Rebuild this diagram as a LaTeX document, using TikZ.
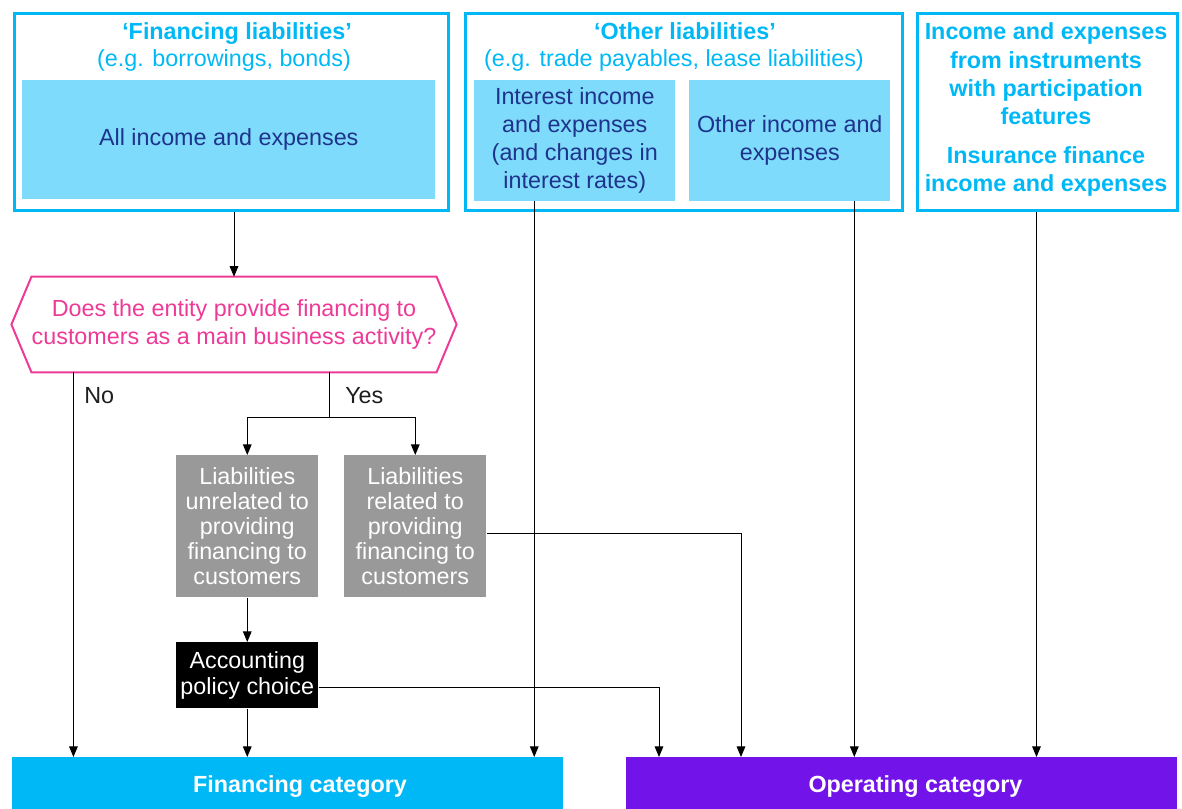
\documentclass[tikz,border=0pt]{standalone}
\usepackage{fontspec}
\setmainfont{Liberation Sans}
\usetikzlibrary{arrows.meta}
\definecolor{kcyan}{RGB}{0,184,245}
\definecolor{klight}{RGB}{127,219,251}
\definecolor{knavy}{RGB}{30,52,140}
\definecolor{kpink}{RGB}{237,58,150}
\definecolor{kgrey}{RGB}{153,153,153}
\definecolor{kpurple}{RGB}{114,19,234}
\definecolor{kink}{RGB}{30,30,30}

\begin{document}
\begin{tikzpicture}[x=0.75pt,y=-0.75pt,>={Triangle[length=8pt,width=6.5pt]},
  sz/.style 2 args={minimum width=#1*0.75pt,minimum height=#2*0.75pt},
  groupbox/.style={draw=kcyan,line width=2.25pt,inner sep=0pt,anchor=north west},
  incbox/.style={fill=klight,text=knavy,inner sep=0pt,anchor=north west,align=center,font=\fontsize{17.5}{21}\selectfont},
  headtxt/.style={text=kcyan,inner sep=0pt,anchor=base,font=\bfseries\fontsize{17.5}{21}\selectfont},
  subtxt/.style={text=kcyan,inner sep=0pt,anchor=base,font=\fontsize{17.5}{21}\selectfont},
  parttxt/.style={text=kcyan,inner sep=0pt,align=center,font=\bfseries\fontsize{17.5}{21.2}\selectfont},
  liab/.style={fill=kgrey,text=white,inner sep=0pt,anchor=north west,align=center,font=\fontsize{17.5}{18.75}\selectfont},
  choicebox/.style={fill=black,text=white,inner sep=0pt,anchor=north west,align=center,font=\fontsize{17.5}{19.5}\selectfont},
  catbox/.style={inner sep=0pt,anchor=north west},
  cattxt/.style={text=white,inner sep=0pt,font=\bfseries\fontsize{17.5}{21}\selectfont},
  anstxt/.style={text=kink,inner sep=0pt,anchor=base west,font=\fontsize{17.5}{21}\selectfont},
  link/.style={line width=0.75pt}]
\useasboundingbox (0,0) rectangle (1182,809);

\node[groupbox,sz={434}{196.5}] (finbox) at (12.5,12.5) {};
\node[groupbox,sz={437.5}{196.5}] (othbox) at (463.5,12.5) {};
\node[groupbox,sz={260}{196.5}] (partbox) at (916,12.5) {};

\node[headtxt] (finhead) at (237,40) {`Financing liabilities'};
\node[subtxt] (finsub) at (224,67) {(e.g. borrowings, bonds)};
\node[incbox,sz={413}{119}] (allinc) at (22,80) {All income and expenses};

\node[headtxt] (othhead) at (685,40) {`Other liabilities'};
\node[subtxt] (othsub) at (674,67) {(e.g. trade payables, lease liabilities)};
\node[incbox,sz={201}{120.5}] (intinc) at (474,80) {Interest income\\and expenses\\(and changes in\\interest rates)};
\node[incbox,sz={201}{120.5}] (othinc) at (689,80) {Other income and\\expenses};

\node[parttxt] (parttop) at (1046,74) {Income and expenses\\from instruments\\with participation\\features};
\node[parttxt] (partbot) at (1046,171.5) {Insurance finance\\income and expenses};

\node[text=kpink,inner sep=0pt,align=center,sz={398}{95},font=\fontsize{17.5}{21}\selectfont] (q) at (234,324.5) {Does the entity provide financing to\\customers as a main business activity?};
\draw[kpink,line width=1.5pt] ([xshift=-15pt]q.west) -- (q.north west) -- (q.north east) -- ([xshift=15pt]q.east) -- (q.south east) -- (q.south west) -- cycle;

\node[liab,sz={142}{142}] (unrel) at (176,455) {Liabilities\\unrelated to\\providing\\financing to\\customers};
\node[liab,sz={142}{142}] (rel) at (344,455) {Liabilities\\related to\\providing\\financing to\\customers};
\node[choicebox,sz={142}{66}] (choice) at (176,642) {Accounting\\policy choice};

\node[catbox,fill=kcyan,sz={551}{52}] (fincat) at (12,757) {};
\node[catbox,fill=kpurple,sz={551}{52}] (opcat) at (626,757) {};
\node[cattxt] (finlbl) at (300,787) {Financing category};
\node[cattxt] (oplbl) at (915.5,787) {Operating category};

\node[anstxt] (nolbl) at (84,403) {No};
\node[anstxt] (yeslbl) at (345,403) {Yes};

\coordinate (nopt) at ([xshift=31.5pt]q.south west);
\coordinate (yespt) at ([xshift=223.5pt]q.south west);
\coordinate (intout) at ([xshift=-30.4pt]intinc.south);
\coordinate (othout) at ([xshift=48.4pt]othinc.south);
\coordinate (partout) at ([xshift=-8.25pt]partbox.south);

\draw[link,->] (finbox.south -| q.north) -- (q.north);
\draw[link,->] (nopt) -- (nopt |- fincat.north);
\draw[link] (yespt) -- ++(0,45) coordinate (split);
\draw[link,->] (split) -| (unrel.north);
\draw[link,->] (split) -| (rel.north);
\draw[link,->] (unrel.south) -- (choice.north);
\draw[link,->] (choice.south) -- (choice.south |- fincat.north);
\draw[link,->] ([yshift=-9pt]choice.east) -| ([xshift=24.75pt]opcat.north west);
\draw[link,->] ([yshift=-5.25pt]rel.east) -| ([xshift=86.25pt]opcat.north west);
\draw[link,->] (intout) -- (intout |- fincat.north);
\draw[link,->] (othout) -- (othout |- opcat.north);
\draw[link,->] (partout) -- (partout |- opcat.north);
\end{tikzpicture}
\end{document}
